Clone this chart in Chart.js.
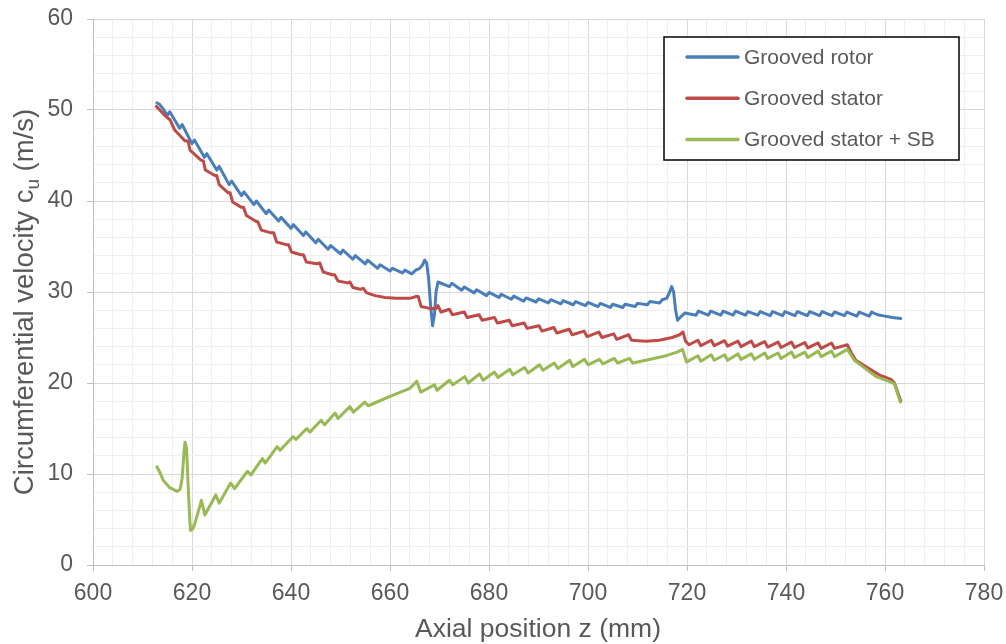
<!DOCTYPE html>
<html>
<head>
<meta charset="utf-8">
<title>Circumferential velocity along the axial position</title>
<script src="https://cdn.jsdelivr.net/npm/chart.js@4.4.1/dist/chart.umd.min.js"></script>
<style>
  html, body { margin: 0; padding: 0; background: #ffffff; }
  #wrap { width: 1006px; height: 644px; position: relative; }
</style>
</head>
<body>
<div id="wrap"><canvas id="c" width="1006" height="644"></canvas></div>
<script>
// Axial position z (mm) and circumferential velocity c_u (m/s) for each configuration
const zRotor = [612.9,613.5,614.2,615.0,615.5,617.5,618.0,620.0,620.5,622.5,623.0,625.0,625.5,627.5,628.0,630.0,630.5,632.5,633.0,635.0,635.5,637.5,638.0,640.0,640.5,642.5,643.0,645.0,645.5,647.5,648.0,650.0,650.5,652.5,653.0,655.0,655.5,657.5,658.0,660.0,660.5,662.5,663.0,664.4,665.2,666.0,666.6,667.0,667.4,667.8,668.2,668.6,669.0,669.3,669.7,672.0,672.5,674.5,675.0,677.0,677.5,679.5,680.0,682.0,682.5,684.5,685.0,687.0,687.5,689.5,690.0,692.0,692.5,694.5,695.0,697.0,697.5,699.5,700.0,702.0,702.5,704.5,705.0,707.0,707.5,709.5,710.0,712.0,712.5,714.5,715.0,715.9,716.5,716.9,717.3,717.7,718.1,718.8,719.6,721.8,722.3,724.3,724.8,726.8,727.3,729.3,729.8,731.8,732.3,734.3,734.8,736.8,737.3,739.3,739.8,741.8,742.3,744.3,744.8,746.8,747.3,749.3,749.8,751.8,752.3,754.3,754.8,756.8,757.3,758.5,760.0,761.5,763.2];
const cuRotor = [50.8,50.6,50.1,49.4,49.8,48.0,48.4,46.3,46.7,44.8,45.2,43.4,43.8,41.8,42.2,40.6,41.0,39.6,40.0,38.6,39.0,37.8,38.2,37.0,37.4,36.2,36.6,35.4,35.8,34.7,35.1,34.2,34.6,33.6,34.0,33.1,33.5,32.6,33.0,32.3,32.6,32.1,32.4,32.0,32.4,32.6,33.0,33.5,33.2,31.5,28.5,26.3,27.6,30.0,31.1,30.6,30.95,30.2,30.55,29.9,30.25,29.6,29.95,29.4,29.75,29.2,29.55,29.0,29.35,28.9,29.25,28.8,29.15,28.7,29.05,28.6,28.95,28.5,28.85,28.4,28.75,28.3,28.65,28.3,28.65,28.4,28.75,28.6,28.95,28.8,29.15,29.3,30.0,30.6,30.0,28.0,26.9,27.3,27.7,27.45,27.9,27.45,27.9,27.45,27.9,27.45,27.9,27.45,27.85,27.45,27.85,27.4,27.85,27.4,27.85,27.4,27.85,27.4,27.85,27.4,27.85,27.4,27.8,27.4,27.8,27.35,27.8,27.35,27.8,27.5,27.35,27.2,27.1];

const zStator = [612.8,613.5,614.5,615.6,616.0,616.5,618.6,619.2,619.6,621.8,622.3,622.7,624.6,625.0,625.5,627.3,627.7,628.2,630.0,630.4,631.0,632.8,633.3,634.0,636.0,636.5,637.1,639.0,639.5,640.1,642.0,642.5,643.1,645.2,645.8,646.5,648.3,648.8,649.5,651.4,651.9,652.5,654.0,654.6,655.3,657.0,659.0,661.3,664.0,665.3,665.7,666.3,668.0,669.3,669.7,670.3,672.0,672.6,675.0,675.6,678.0,678.6,681.1,681.7,684.1,684.7,687.1,687.7,690.1,690.7,693.1,693.7,696.2,696.8,699.2,699.8,702.2,702.8,705.2,705.8,708.2,708.8,711.7,714.4,717.0,718.5,719.2,719.7,720.4,722.2,722.8,724.9,725.5,727.6,728.2,730.3,730.9,733.0,733.6,735.7,736.3,738.4,739.0,741.1,741.7,743.8,744.4,746.5,747.1,749.2,749.8,752.4,753.2,754.1,756.1,758.8,761.2,761.9,763.2];
const cuStator = [50.4,50.0,49.4,48.9,48.4,47.8,46.6,46.6,45.6,44.5,44.4,43.4,42.8,42.8,41.8,40.9,40.9,39.9,39.3,39.3,38.4,37.8,37.7,36.8,36.5,36.5,35.5,35.2,35.2,34.4,34.1,34.1,33.3,33.1,33.2,32.2,31.9,31.9,31.2,31.0,31.1,30.5,30.3,30.4,29.9,29.6,29.4,29.3,29.3,29.5,29.5,28.4,28.2,28.2,28.5,27.8,28.1,27.5,27.8,27.2,27.5,26.9,27.2,26.6,26.9,26.3,26.6,26.0,26.3,25.7,26.1,25.5,25.9,25.3,25.7,25.1,25.6,25.0,25.4,24.8,25.3,24.7,24.6,24.7,25.0,25.3,25.6,24.6,24.2,24.7,24.1,24.7,24.1,24.65,24.05,24.6,24.0,24.6,24.0,24.55,23.95,24.5,23.9,24.5,23.9,24.45,23.85,24.4,23.8,24.4,23.8,24.2,23.3,22.5,21.8,20.9,20.4,20.0,18.0];

const zStatorSB = [612.9,613.5,614.2,615.5,617.0,617.6,618.0,618.4,618.6,618.9,619.2,619.5,619.7,620.2,620.6,621.9,622.6,624.8,625.5,627.8,628.6,631.2,631.9,634.2,634.8,637.2,637.8,640.4,641.0,643.2,643.8,646.1,646.8,648.9,649.5,651.9,652.6,654.9,655.6,659.9,664.0,665.4,666.2,669.0,669.5,672.0,672.7,675.1,675.8,678.1,678.8,681.1,681.8,684.2,684.8,687.2,687.9,690.2,690.9,693.2,693.9,696.3,696.9,699.3,700.0,702.3,703.0,705.3,706.0,708.4,709.0,711.7,715.8,718.0,719.1,719.9,722.2,722.8,724.9,725.5,727.6,728.2,730.3,730.9,733.0,733.6,735.7,736.3,738.4,739.0,741.1,741.7,743.8,744.4,746.5,747.1,749.2,749.8,752.4,753.8,755.5,758.2,761.2,761.9,763.1];
const cuStatorSB = [10.8,10.2,9.3,8.5,8.1,8.3,9.5,12.5,13.5,12.8,9.0,5.5,3.8,4.0,4.6,7.1,5.5,7.7,6.8,9.0,8.4,10.3,9.9,11.7,11.2,13.0,12.6,14.1,13.8,15.0,14.6,15.9,15.4,16.7,16.1,17.4,16.8,17.9,17.5,18.5,19.4,20.2,19.0,19.8,19.2,20.3,19.8,20.7,20.0,21.0,20.3,21.2,20.6,21.5,20.9,21.7,21.1,22.0,21.4,22.2,21.6,22.5,21.8,22.6,22.0,22.6,22.1,22.7,22.2,22.7,22.2,22.5,23.0,23.4,23.7,22.3,23.0,22.4,23.1,22.5,23.1,22.5,23.2,22.6,23.2,22.6,23.3,22.7,23.3,22.7,23.4,22.8,23.4,22.8,23.5,22.9,23.5,22.9,23.7,22.5,21.8,20.7,20.1,19.9,17.9];

const seriesNames = ['Grooved rotor', 'Grooved stator', 'Grooved stator + SB'];
const seriesColors = ['#4a7ebb', '#be4b48', '#98b954'];

// Axis ranges: major ticks are labelled, minor steps only carry light grid lines
const xMin = 600, xMax = 780, xMajor = 20, xMinor = 4;
const yMin = 0, yMax = 60, yMajor = 10, yMinor = 2;

const FONT = "'Liberation Sans', Arial, Helvetica, sans-serif";
const TEXT = '#595959';
const GRID_MAJOR = '#d9d9d9';
const GRID_MINOR = '#efefef';
const AXIS = '#bfbfbf';

const pts = (zs, vs) => zs.map((z, i) => ({ x: z, y: vs[i] }));
const isMajor = (v, step) => Math.abs(v / step - Math.round(v / step)) < 1e-6;

// Axis titles (the y title carries a subscript u)
const axisTitles = {
  id: 'axisTitles',
  afterDraw(chart) {
    const ctx = chart.ctx;
    ctx.save();
    ctx.fillStyle = TEXT;
    ctx.font = '26.5px ' + FONT;
    ctx.textAlign = 'center';
    ctx.textBaseline = 'alphabetic';
    ctx.fillText('Axial position z (mm)', 538, 637);

    ctx.translate(33, 302);
    ctx.rotate(-Math.PI / 2);
    const p1 = 'Circumferential velocity c', sub = 'u', p2 = ' (m/s)';
    const big = '27.5px ' + FONT, small = '19px ' + FONT;
    ctx.font = big;
    const w1 = ctx.measureText(p1).width, w3 = ctx.measureText(p2).width;
    ctx.font = small;
    const w2 = ctx.measureText(sub).width;
    let x = -(w1 + w2 + w3) / 2;
    ctx.textAlign = 'left';
    ctx.font = big; ctx.fillText(p1, x, 0); x += w1;
    ctx.font = small; ctx.fillText(sub, x, 6); x += w2;
    ctx.font = big; ctx.fillText(p2, x, 0);
    ctx.restore();
  }
};

// Framed legend placed inside the plot area, top right
const boxLegend = {
  id: 'boxLegend',
  afterDraw(chart) {
    const ctx = chart.ctx;
    const bx = 664, by = 37, bw = 295, bh = 123;
    ctx.save();
    ctx.fillStyle = '#ffffff';
    ctx.fillRect(bx, by, bw, bh);
    ctx.strokeStyle = '#000000';
    ctx.lineWidth = 1.5;
    ctx.strokeRect(bx, by, bw, bh);
    ctx.font = '21px ' + FONT;
    ctx.textBaseline = 'middle';
    ctx.textAlign = 'left';
    chart.data.datasets.forEach((ds, i) => {
      const y = 57 + i * 41.3;
      ctx.strokeStyle = ds.borderColor;
      ctx.lineWidth = 3.5;
      ctx.lineCap = 'round';
      ctx.beginPath();
      ctx.moveTo(687, y);
      ctx.lineTo(738, y);
      ctx.stroke();
      ctx.fillStyle = TEXT;
      ctx.fillText(ds.label, 744, y + 1);
    });
    ctx.restore();
  }
};

new Chart(document.getElementById('c'), {
  type: 'line',
  data: {
    datasets: [
      { label: seriesNames[0], data: pts(zRotor, cuRotor), borderColor: seriesColors[0], order: 3 },
      { label: seriesNames[1], data: pts(zStator, cuStator), borderColor: seriesColors[1], order: 2 },
      { label: seriesNames[2], data: pts(zStatorSB, cuStatorSB), borderColor: seriesColors[2], order: 1 }
    ]
  },
  options: {
    responsive: false,
    devicePixelRatio: 1,
    animation: false,
    layout: { padding: { top: 19, right: 22, left: 0, bottom: 0 } },
    elements: {
      line: { borderWidth: 3, tension: 0, fill: false, borderJoinStyle: 'round', borderCapStyle: 'round' },
      point: { radius: 0, hoverRadius: 0 }
    },
    plugins: { legend: { display: false }, tooltip: { enabled: false } },
    scales: {
      x: {
        type: 'linear',
        min: xMin, max: xMax,
        afterFit(scale) {
          scale.height = 79;
          scale.paddingLeft = 0;
          scale.paddingRight = 0;
        },
        ticks: {
          stepSize: xMinor, autoSkip: false, maxRotation: 0, minRotation: 0,
          color: TEXT, font: { size: 23, family: FONT }, padding: 9,
          callback: v => isMajor(v, xMajor) ? String(v) : ''
        },
        grid: {
          color: c => (c.tick && isMajor(c.tick.value, xMajor)) ? GRID_MAJOR : GRID_MINOR,
          lineWidth: 1,
          tickLength: 6,
          tickColor: c => (c.tick && isMajor(c.tick.value, xMajor)) ? AXIS : 'rgba(0,0,0,0)'
        },
        border: { color: AXIS, width: 1 }
      },
      y: {
        type: 'linear',
        min: yMin, max: yMax,
        afterFit(scale) {
          scale.width = 93;
          scale.paddingTop = 0;
          scale.paddingBottom = 0;
        },
        ticks: {
          stepSize: yMinor, autoSkip: false,
          color: TEXT, font: { size: 23, family: FONT }, padding: 14,
          callback: v => isMajor(v, yMajor) ? String(v) : ''
        },
        grid: {
          color: c => (c.tick && isMajor(c.tick.value, yMajor)) ? GRID_MAJOR : GRID_MINOR,
          lineWidth: 1,
          tickLength: 6,
          tickColor: c => (c.tick && isMajor(c.tick.value, yMajor)) ? AXIS : 'rgba(0,0,0,0)'
        },
        border: { color: AXIS, width: 1 }
      }
    }
  },
  plugins: [axisTitles, boxLegend]
});
</script>
</body>
</html>
